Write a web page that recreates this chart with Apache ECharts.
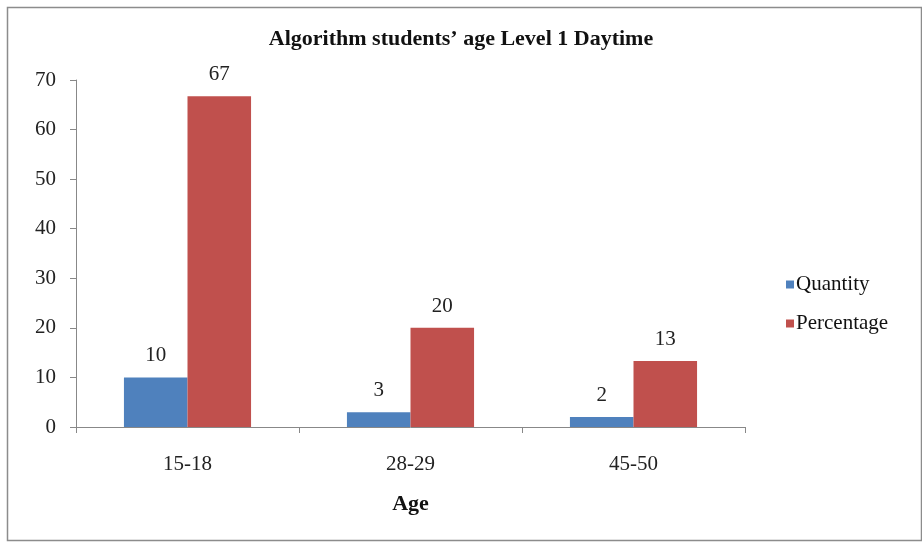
<!DOCTYPE html>
<html>
<head>
<meta charset="utf-8">
<script src="https://cdn.jsdelivr.net/npm/echarts@6/dist/echarts.min.js"></script>
<style>
  html, body { margin: 0; padding: 0; background: #fff; }
  #main { width: 922px; height: 549px; }
</style>
</head>
<body>
<div id="main"></div>
<script>
  'use strict';

  // data
  var categories = ['15-18', '28-29', '45-50'];
  var quantity = [10, 3, 2];
  var percentage = [66.7, 20, 13.3];
  var yTicks = { min: 0, max: 70, step: 10 };

  var serif = '"Liberation Serif", "Times New Roman", serif';

  var chart = echarts.init(document.getElementById('main'));

  function barLabel() {
    return {
      show: true,
      position: 'top',
      distance: 11,
      color: '#222',
      fontFamily: serif,
      fontSize: 21,
      formatter: function (p) { return Math.round(p.value); }
    };
  }

  chart.setOption({
    animation: false,
    backgroundColor: '#fff',
    graphic: [{
      type: 'rect',
      shape: { x: 7.5, y: 7.5, width: 914, height: 533 },
      style: { fill: 'none', stroke: '#8c8c8c', lineWidth: 1.5 },
      silent: true
    }],
    title: {
      text: 'Algorithm students\u2019 age Level 1 Daytime',
      left: 'center',
      top: 23,
      textStyle: { fontFamily: serif, fontSize: 22, fontWeight: 'bold', color: '#111' }
    },
    legend: {
      orient: 'vertical',
      left: 781,
      top: 269,
      itemWidth: 8,
      itemHeight: 8,
      itemGap: 18,
      icon: 'rect',
      textStyle: { fontFamily: serif, fontSize: 21, color: '#111', padding: [0, 0, 0, -3] },
      data: ['Quantity', 'Percentage']
    },
    grid: { left: 76, right: 177, top: 80, bottom: 122 },
    xAxis: {
      type: 'category',
      data: categories,
      name: 'Age',
      nameLocation: 'middle',
      nameGap: 66,
      nameTextStyle: { fontFamily: serif, fontSize: 22, fontWeight: 'bold', color: '#111' },
      axisLine: { lineStyle: { color: '#888', width: 1 } },
      axisTick: { show: true, length: 6, lineStyle: { color: '#888' } },
      axisLabel: { fontFamily: serif, fontSize: 21, color: '#222', margin: 27 }
    },
    yAxis: {
      type: 'value',
      min: yTicks.min,
      max: yTicks.max,
      interval: yTicks.step,
      axisLine: { show: true, lineStyle: { color: '#888', width: 1 } },
      axisTick: { show: true, length: 6, lineStyle: { color: '#888' } },
      splitLine: { show: false },
      axisLabel: { fontFamily: serif, fontSize: 21, color: '#222', margin: 20 }
    },
    series: [{
      name: 'Quantity',
      type: 'bar',
      data: quantity,
      barGap: '0%',
      barCategoryGap: '43%',
      itemStyle: { color: '#4F81BD' },
      label: barLabel()
    }, {
      name: 'Percentage',
      type: 'bar',
      data: percentage,
      itemStyle: { color: '#C0504D' },
      label: barLabel()
    }]
  });
</script>
</body>
</html>
